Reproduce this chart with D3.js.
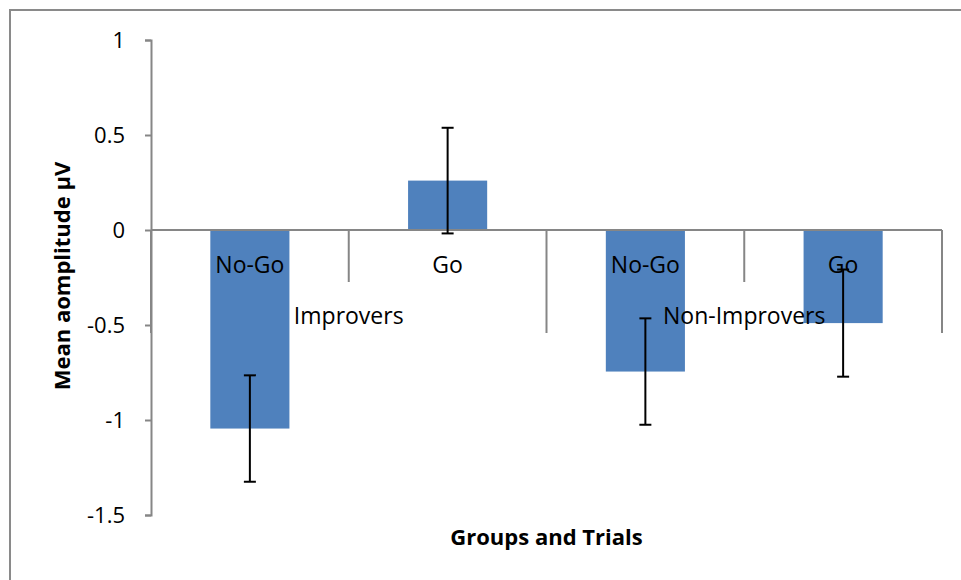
<!DOCTYPE html>
<html>
<head>
<meta charset="utf-8">
<script src="https://cdn.jsdelivr.net/npm/d3@7"></script>
<style>
  html, body { margin: 0; padding: 0; background: #fff; }
  svg { display: block; }
  text { font-family: "Open Sans", sans-serif; fill: #000; }
</style>
</head>
<body>
<svg id="chart" width="961" height="580"></svg>
<script>
const groups = ["Improvers", "Non-Improvers"];
const trials = ["No-Go", "Go", "No-Go", "Go"];
const groupOfBar = [0, 0, 1, 1];
const values = [-1.045, 0.26, -0.745, -0.49];
const errors = [0.28, 0.278, 0.28, 0.282];
const yTicks = [1, 0.5, 0, -0.5, -1, -1.5];
const yTitle = "Mean aomplitude µV";
const xTitle = "Groups and Trials";

(function () {
const svg = d3.select("#chart");
const pLeft = 151, pRight = 942, pTop = 40, pBottom = 515;
const axisColor = "#868686";
const FONT = "'Open Sans', sans-serif";

svg.append("rect").attr("x", 10).attr("y", 10).attr("width", 1000).attr("height", 700)
  .attr("fill", "none").attr("stroke", "#8a8a8a").attr("stroke-width", 2);

const y = d3.scaleLinear().domain([-1.5, 1]).range([pBottom, pTop]);
const x = d3.scaleBand().domain(d3.range(trials.length)).range([pLeft, pRight]).paddingInner(0).paddingOuter(0);
const barW = x.bandwidth() * 0.4;

const yAxis = d3.axisLeft(y).tickValues(yTicks).tickSize(6).tickPadding(20)
  .tickFormat(d => String(d));
const gy = svg.append("g").attr("transform", `translate(${pLeft},0)`).call(yAxis);
gy.select(".domain").attr("stroke", axisColor).attr("stroke-width", 2);
gy.selectAll(".tick line").attr("stroke", axisColor).attr("stroke-width", 2);
gy.selectAll(".tick text").attr("font-size", 22).attr("font-family", FONT).attr("fill", "#000");

const bars = svg.append("g");
trials.forEach((t, i) => {
  const v = values[i];
  const cx = x(i) + x.bandwidth() / 2;
  bars.append("rect")
    .attr("x", cx - barW / 2)
    .attr("y", y(Math.max(0, v)))
    .attr("width", barW)
    .attr("height", Math.abs(y(v) - y(0)))
    .attr("fill", "#4F81BD");
});

const zeroY = y(0);
svg.append("line").attr("x1", pLeft).attr("x2", pRight).attr("y1", zeroY).attr("y2", zeroY)
  .attr("stroke", axisColor).attr("stroke-width", 2);

const boundaries = d3.range(trials.length + 1).map(i => i < trials.length ? x(i) : pRight);
boundaries.forEach((bx, i) => {
  const isGroupEdge = (i === 0 || i === trials.length || groupOfBar[i] !== groupOfBar[i - 1]);
  svg.append("line").attr("x1", bx).attr("x2", bx)
    .attr("y1", zeroY).attr("y2", zeroY + (isGroupEdge ? 103 : 52))
    .attr("stroke", axisColor).attr("stroke-width", 2);
});

trials.forEach((t, i) => {
  svg.append("text")
    .attr("x", x(i) + x.bandwidth() / 2)
    .attr("y", zeroY + 43)
    .attr("text-anchor", "middle")
    .attr("font-size", 23)
    .text(t);
});

groups.forEach((g, gi) => {
  const idx = d3.range(trials.length).filter(i => groupOfBar[i] === gi);
  const x0 = x(idx[0]);
  const x1 = x(idx[idx.length - 1]) + x.bandwidth();
  svg.append("text")
    .attr("x", (x0 + x1) / 2)
    .attr("y", zeroY + 94)
    .attr("text-anchor", "middle")
    .attr("font-size", 23)
    .text(g);
});

const eb = svg.append("g").attr("stroke", "#000").attr("stroke-width", 2);
trials.forEach((t, i) => {
  const cx = x(i) + x.bandwidth() / 2;
  const hi = y(values[i] + errors[i]);
  const lo = y(values[i] - errors[i]);
  eb.append("line").attr("x1", cx).attr("x2", cx).attr("y1", hi).attr("y2", lo);
  eb.append("line").attr("x1", cx - 6).attr("x2", cx + 6).attr("y1", hi).attr("y2", hi);
  eb.append("line").attr("x1", cx - 6).attr("x2", cx + 6).attr("y1", lo).attr("y2", lo);
});

svg.append("text")
  .attr("transform", `translate(70,${(162 + 390) / 2}) rotate(-90)`)
  .attr("text-anchor", "middle")
  .attr("font-size", 22).attr("font-weight", "bold")
  .text(yTitle);

svg.append("text")
  .attr("x", (pLeft + pRight) / 2)
  .attr("y", 545)
  .attr("text-anchor", "middle")
  .attr("font-size", 22).attr("font-weight", "bold")
  .text(xTitle);
})();
</script>
</body>
</html>
